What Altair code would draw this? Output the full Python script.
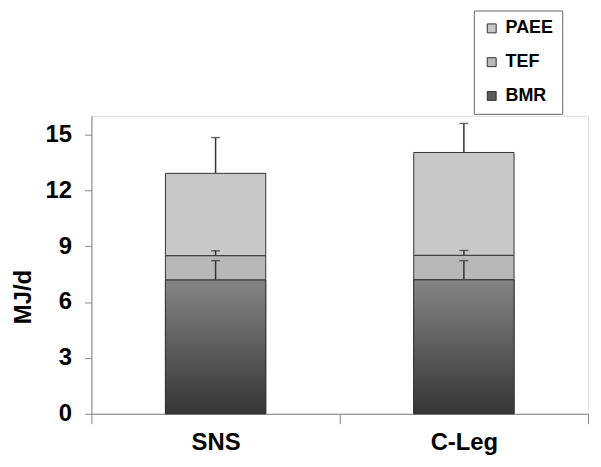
import altair as alt
import pandas as pd

groups = ["SNS", "C-Leg"]
components = ["PAEE", "TEF", "BMR"]
bmr = [7.18, 7.19]
tef = [1.31, 1.32]
paee = [4.42, 5.52]
bmr_sd = [1.04, 1.03]
tef_sd = [0.26, 0.26]
total_sd = [1.92, 1.56]

FONT = "Liberation Sans, Arial, sans-serif"

seg_rows = []
err_rows = []
for i, g in enumerate(groups):
    b0, b1 = 0.0, bmr[i]
    t1 = b1 + tef[i]
    p1 = t1 + paee[i]
    seg_rows += [
        {"group": g, "component": "BMR", "lo": b0, "hi": b1},
        {"group": g, "component": "TEF", "lo": b1, "hi": t1},
        {"group": g, "component": "PAEE", "lo": t1, "hi": p1},
    ]
    err_rows += [
        {"group": g, "base": b1, "top": b1 + bmr_sd[i]},
        {"group": g, "base": t1, "top": t1 + tef_sd[i]},
        {"group": g, "base": p1, "top": p1 + total_sd[i]},
    ]
seg = pd.DataFrame(seg_rows)
err = pd.DataFrame(err_rows)

xenc = alt.X(
    "group:N",
    sort=groups,
    scale=alt.Scale(paddingInner=0, paddingOuter=0),
    axis=alt.Axis(
        title=None, labelAngle=0, tickBand="extent", tickSize=10,
        labelPadding=7, labelFont=FONT, labelFontSize=24, labelFontWeight="bold",
        labelColor="black", domainColor="#888", tickColor="#888",
    ),
)

yscale = alt.Scale(domain=[0, 16], nice=False)
yaxis = alt.Axis(
    values=[0, 3, 6, 9, 12, 15], grid=False, tickSize=7, labelPadding=13,
    labelFont=FONT, labelFontSize=24, labelFontWeight="bold", labelColor="black",
    domainColor="#888", tickColor="#888",
    title="MJ/d", titleFont=FONT, titleFontSize=24, titleFontWeight="bold",
    titleColor="black", titleAngle=270, titleX=-68, titleY=182,
    titleAlign="center", titleBaseline="middle",
)

bars = alt.Chart(seg).mark_bar(size=101, stroke="#333", strokeWidth=1).encode(
    x=xenc,
    y=alt.Y("lo:Q", scale=yscale, axis=yaxis),
    y2="hi:Q",
    color=alt.Color(
        "component:N",
        scale=alt.Scale(domain=components, range=["#c8c8c8", "#b8b8b8", "#5a5a5a"]),
        legend=alt.Legend(
            title=None, orient="none", legendX=385, legendY=-106,
            symbolType="square", symbolSize=81, symbolStrokeColor="#333",
            symbolStrokeWidth=1, labelFont=FONT, labelFontSize=18,
            labelFontWeight="bold", labelColor="black", labelOffset=5,
            padding=9, rowPadding=16, strokeColor="#666", fillColor="white",
        ),
    ),
)

grad = alt.Gradient(
    gradient="linear",
    stops=[alt.GradientStop(color="#858585", offset=0),
           alt.GradientStop(color="#353535", offset=1)],
    x1=0, x2=0, y1=0, y2=1,
)
bmr_layer = alt.Chart(seg).transform_filter(
    alt.datum.component == "BMR"
).mark_bar(size=101, stroke="#333", strokeWidth=1, color=grad).encode(
    x=alt.X("group:N", sort=groups),
    y=alt.Y("lo:Q", scale=yscale),
    y2="hi:Q",
)

rules = alt.Chart(err).mark_rule(color="#333", strokeWidth=1.5).encode(
    x=alt.X("group:N", sort=groups),
    y=alt.Y("base:Q", scale=yscale),
    y2="top:Q",
)
caps = alt.Chart(err).mark_tick(color="#333", thickness=1.5, size=9).encode(
    x=alt.X("group:N", sort=groups),
    y=alt.Y("top:Q", scale=yscale),
)

chart = alt.layer(bars, bmr_layer, rules, caps).properties(
    width=500, height=300,
    autosize=alt.AutoSizeParams(type="none"),
    padding={"left": 84, "top": 107, "right": 5, "bottom": 40},
).configure_view(strokeWidth=0).configure(background="white")

chart.save("out.html", embed_options={"renderer": "svg", "actions": False})
